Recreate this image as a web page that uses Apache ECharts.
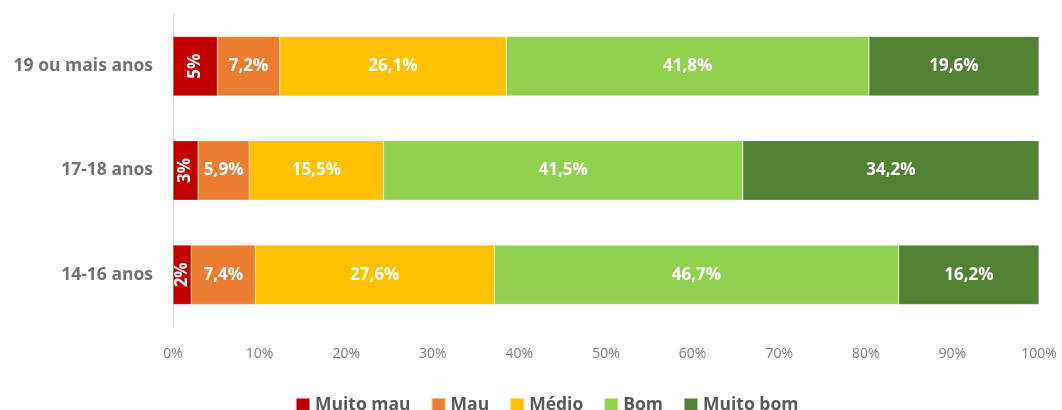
<!DOCTYPE html>
<html>
<head>
<meta charset="utf-8">
<script src="https://cdn.jsdelivr.net/npm/echarts@6/dist/echarts.min.js"></script>
<style>
html,body{margin:0;padding:0;background:#fff;}
#chart{width:1062px;height:410px;}
</style>
</head>
<body>
<div id="chart"></div>
<script>
var categories = ['14-16 anos', '17-18 anos', '19 ou mais anos'];
var seriesNames = ['Muito mau', 'Mau', 'Médio', 'Bom', 'Muito bom'];
var muitoMau = [2.1, 2.9, 5.1];
var mau = [7.4, 5.9, 7.2];
var medio = [27.6, 15.5, 26.1];
var bom = [46.7, 41.5, 41.8];
var muitoBom = [16.2, 34.2, 19.6];
var xTicks = ['0%','10%','20%','30%','40%','50%','60%','70%','80%','90%','100%'];
var colors = ['#C00000', '#ED7D31', '#FFC000', '#92D050', '#548235'];

var raw = [muitoMau, mau, medio, bom, muitoBom];
var totals = categories.map(function(_, i){ return raw.reduce(function(s, arr){ return s + arr[i]; }, 0); });
var font = '"Open Sans", "Liberation Sans", sans-serif';

var series = raw.map(function(arr, si){
  var isFirst = si === 0;
  return {
    name: seriesNames[si],
    type: 'bar',
    stack: 'total',
    barWidth: '57%',
    itemStyle: { color: colors[si], borderColor: 'rgba(255,255,255,0.5)', borderWidth: 0.5 },
    label: {
      show: true,
      position: 'inside',
      rotate: isFirst ? 90 : 0,
      color: '#ffffff',
      fontFamily: font,
      fontWeight: 'bold',
      fontSize: 17,
      formatter: function(p){
        var v = arr[p.dataIndex];
        return isFirst ? Math.round(v) + '%' : v.toFixed(1).replace('.', ',') + '%';
      }
    },
    data: arr.map(function(v, i){ return v / totals[i] * 100; })
  };
});

var chart = echarts.init(document.getElementById('chart'));
chart.setOption({
  animation: false,
  color: colors,
  grid: { left: 173, right: 23, top: 14, bottom: 83, containLabel: false },
  legend: {
    top: 391,
    left: 290,
    itemWidth: 14,
    itemHeight: 14,
    itemGap: 20,
    icon: 'rect',
    textStyle: { color: '#595959', fontFamily: font, fontWeight: 'bold', fontSize: 17.5 },
    data: seriesNames
  },
  xAxis: {
    type: 'value',
    min: 0,
    max: 100,
    interval: 10,
    axisLine: { show: false },
    axisTick: { show: false },
    splitLine: { show: false },
    axisLabel: {
      color: '#7f7f7f',
      fontFamily: font,
      fontSize: 14,
      margin: 20,
      formatter: function(v){ return xTicks[Math.round(v / 10)]; }
    }
  },
  yAxis: {
    type: 'category',
    data: categories,
    axisLine: { show: true, lineStyle: { color: '#d9d9d9', width: 1 } },
    axisTick: { show: false },
    axisLabel: {
      color: '#767171',
      fontFamily: font,
      fontWeight: 'bold',
      fontSize: 17.5,
      margin: 20
    }
  },
  series: series
});
</script>
</body>
</html>
